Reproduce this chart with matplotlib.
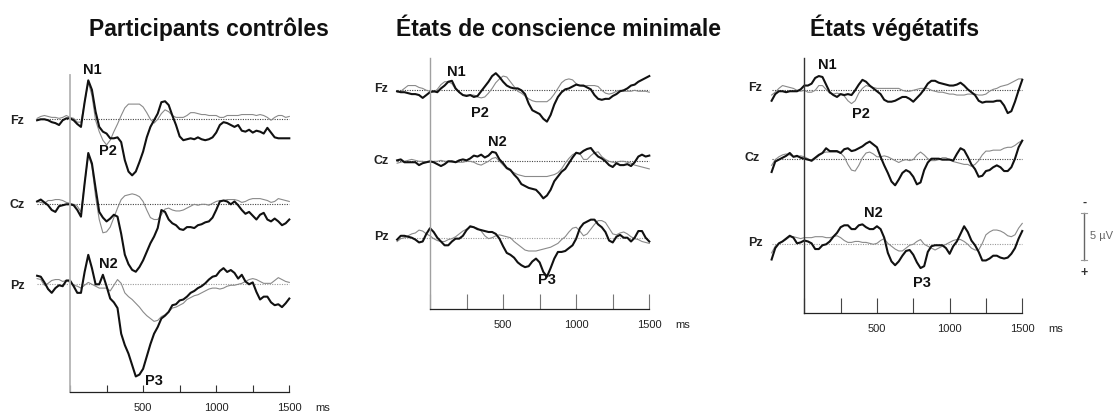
import numpy as np
import matplotlib
matplotlib.use("Agg")
import matplotlib.pyplot as plt

plt.rcParams['font.family'] = ['Liberation Sans', 'DejaVu Sans']

# ---------------- data (µV, negative up) ----------------
times = np.arange(-225, 1501, 25)          # ms
channels = ['Fz', 'Cz', 'Pz']
tick_values = [0, 250, 500, 750, 1000, 1250, 1500]
tick_labels = ['', '', '500', '', '1000', '', '1500']
titles = ['Participants contrôles', 'États de conscience minimale', 'États végétatifs']

# Participants contrôles
ctrl_fz_deviant = [0.1, 0, 0, 0.1, 0.3, 0.4, 0.6, 0.1, -0.1, -0.1, 0.1, 0.5, 0.8,
                   -1.8, -4.1, -3.1, -0.8, 0.8, 1.3, 1.5, 2.0, 2.0,
                   1.9, 2.4, 4.3, 5.5, 5.9, 5.5, 4.5, 3.4, 1.9, 0.8, 0.1, -0.6,
                   -1.8, -1.9, -1.5, -0.4, 0.6, 1.8, 2.2, 2.1, 2.0, 2.1, 1.9, 2.1, 2.2, 2.1, 1.9, 1.4,
                   0.6, 0.3, 0.4, 0.6, 0.8, 0.6, 1.2, 1.3, 1.1, 1.4, 1.2, 1.3, 1.5, 0.9, 1.4, 1.9, 2.0, 2.0, 2.0, 2.0]
ctrl_fz_standard = [-0.1, -0.3, -0.4, -0.3, -0.2, -0.2, -0.1, -0.2, -0.4, -0.2, -0.1, 0.3, 0.3,
                    -1.8, -3.9, -2.5, 0.1, 1.3, 2.2, 2.7, 2.2, 1.3,
                    0.5, -0.4, -1.2, -1.6, -1.6, -1.6, -1.6, -1.3, -0.7, 0, 0.4, 0,
                    -0.6, -1.0, -0.8, -0.4, -0.2, -0.2, -0.2, -0.4, -0.7, -0.7, -0.6, -0.5, -0.5, -0.4, -0.4, -0.4,
                    -0.2, -0.2, -0.4, -0.4, -0.4, -0.4, -0.5, -0.5, -0.5, -0.5, -0.4, -0.5, -0.4, -0.2, 0.1, -0.2, -0.4, -0.4, -0.2, -0.3]
ctrl_cz_deviant = [-0.3, -0.5, -0.2, 0.1, 0.6, 0.8, 0.2, 0.1, 0, 0, 0.1, 0.6, 1.3,
                   -2.2, -5.4, -4.3, -1.7, 0.8, 1.4, 1.8, 1.5, 1.1,
                   1.3, 3.1, 5.3, 6.3, 6.9, 7.1, 6.6, 5.9, 5.0, 4.1, 3.4, 2.5,
                   0.6, 0.8, 1.6, 2.0, 2.2, 2.6, 2.7, 2.4, 2.4, 2.5, 2.2, 2.1, 1.9, 1.8, 1.4, 0.6,
                   -0.3, -0.4, -0.3, 0, -0.3, 0.1, 0.6, 1.0, 0.8, 1.2, 1.6, 1.1, 0.9, 1.6, 1.8, 1.5, 1.8, 2.2, 2.0, 1.6]
ctrl_cz_standard = [-0.3, -0.2, -0.1, -0.4, -0.4, -0.5, -0.5, -0.4, -0.2, -0.1, 0, 0.2, 0.8,
                    -2.2, -5.2, -4.0, -0.8, 1.6, 3.0, 2.9, 2.4, 1.4,
                    0.4, -0.5, -0.9, -1.0, -1.1, -1.0, -0.8, -0.3, 0.6, 1.4, 1.6, 1.6,
                    1.1, 0.5, 0.4, 0.6, 0.7, 0.7, 0.6, 0.4, 0.2, 0, 0.1, 0, 0, 0.1, -0.1, -0.3,
                    -0.4, -0.4, -0.5, -0.5, -0.5, -0.4, -0.2, -0.3, -0.5, -0.6, -0.6, -0.6, -0.5, -0.4, -0.2, -0.3, -0.6, -0.5, -0.4, -0.3]
ctrl_pz_deviant = [-0.9, -0.8, -0.2, 0.5, 0.9, 0.4, 0.1, 0.2, -0.4, -0.4, 0.2, 0.9, 0.9,
                   -1.3, -3.1, -1.7, 0, 0, -1.0, 0.2, 1.5, 1.9,
                   2.5, 5.2, 6.4, 7.3, 8.5, 9.7, 9.5, 8.9, 7.6, 6.3, 5.2, 4.5,
                   3.6, 3.3, 2.9, 2.2, 2.1, 1.7, 1.6, 1.3, 0.9, 0.7, 0.4, 0.2, -0.1, -0.5, -0.8, -0.9,
                   -1.4, -1.7, -1.3, -1.5, -1.2, -0.6, -1.0, -0.3, 0, -0.2, 0.8, 1.6, 1.3, 1.3, 1.9, 2.2, 2.1, 2.4, 2.0, 1.5]
ctrl_pz_standard = [-0.6, -0.5, 0.1, -0.1, -0.4, -0.5, -0.5, -0.3, -0.4, -0.2, 0.1, 0.2, 0.4,
                    0.1, -0.2, 0, 0.2, 0.4, 0.4, 0.4, 0.7, 0.1,
                    -0.5, -0.1, 0.9, 1.3, 1.6, 2.0, 2.4, 2.9, 3.3, 3.6, 3.9, 3.8,
                    3.4, 3.2, 2.9, 2.5, 2.4, 2.2, 2.0, 1.6, 1.4, 1.2, 1.1, 0.9, 0.7, 0.5, 0.4, 0.4,
                    0.5, 0.4, 0.2, 0.1, 0.1, 0, -0.1, -0.3, -0.5, -0.6, -0.5, -0.3, -0.1, -0.1, -0.1, -0.4, -0.7, -0.5, -0.3, -0.2]

# États de conscience minimale
mcs_fz_deviant = [0.1, 0.2, 0.2, 0.3, 0.4, 0.4, 0.5, 0.8, 0.5, 0.2, 0.1, 0.2, -0.2,
                  -0.5, -0.9, -1.0, -0.2, 0.2, 0.5, 0.6, 0.5, 0.7,
                  0.6, 0.1, -0.4, -0.9, -1.5, -1.8, -1.4, -0.9, -0.5, -0.3, -0.2, -0.2,
                  0, 0.4, 1.4, 2.1, 2.3, 2.5, 3.0, 3.3, 2.6, 1.5, 0.7, 0.2, -0.1, -0.2, -0.4, -0.6,
                  -0.5, -0.5, -0.3, -0.1, 0.5, 0.9, 1.0, 0.9, 0.9, 0.6, 0.4, 0.1, 0, -0.2, -0.5, -0.6, -0.9, -1.1, -1.3, -1.5]
mcs_fz_standard = [0.2, 0.1, -0.2, -0.5, -0.5, -0.5, -0.3, -0.2, 0, 0.1, 0.2, -0.1, -0.6,
                   -0.9, -0.9, -0.7, -0.1, 0.2, 0.5, 0.5, 0.5, 0.5,
                   0.7, 0.8, 0.7, 0.3, -0.2, -0.8, -1.2, -1.5, -1.4, -0.9, -0.4, 0.1,
                   0.3, 0.6, 0.9, 1.1, 1.2, 1.2, 1.2, 1.2, 0.9, 0.4, -0.2, -0.8, -1.1, -1.2, -1.1, -0.7,
                   -0.5, -0.4, -0.5, -0.5, -0.5, -0.4, 0, 0.3, 0.4, 0.3, 0.1, 0, 0.1, 0.1, 0.1, 0, 0.1, 0.1, 0.1, 0.2]
mcs_cz_deviant = [-0.1, -0.2, 0.1, 0.1, 0.1, 0.1, 0.4, 0.2, 0.1, 0, 0.1, 0.3, 0.5,
                  0.3, 0, 0, 0.1, -0.1, -0.2, -0.1, -0.3, -0.6,
                  -0.5, -0.7, -0.4, -0.6, -1.0, -0.9, -0.2, 0.2, 0.7, 0.9, 1.4, 1.8,
                  2.4, 2.6, 2.8, 2.9, 3.0, 3.4, 3.9, 3.6, 3.0, 2.1, 1.6, 1.1, 0.8, 0.2, -0.4, -0.9,
                  -0.8, -1.1, -1.3, -1.4, -0.9, -0.5, -0.3, 0, 0.4, 0.6, 0.2, 0.4, 0.4, 0.3, 0.5, 0.1, -0.5, -0.7, -0.5, -0.6]
mcs_cz_standard = [0.2, 0.1, 0, -0.1, -0.2, -0.1, 0, 0, 0.1, 0.1, 0, 0, -0.1,
                   0, 0, 0.1, 0.1, 0.1, 0.1, 0, 0, 0.1,
                   0.3, 0.4, 0.2, 0, -0.3, -0.4, 0, 0.4, 0.8, 1.0, 1.2, 1.4,
                   1.5, 1.6, 1.6, 1.6, 1.6, 1.6, 1.6, 1.6, 1.5, 1.4, 1.2, 0.8, 0.2, -0.3, -0.7, -0.9,
                   -0.8, -0.2, -0.2, -0.6, -0.9, -1.0, -0.5, -0.2, 0, 0.1, 0.1, 0, 0, 0.1, 0.2, 0.4, 0.5, 0.6, 0.7, 0.8]
mcs_pz_deviant = [0.2, -0.2, -0.2, -0.1, 0, 0.2, 0.5, 0.4, -0.4, -1.0, -0.6, 0, 0.4,
                  0.8, 0.8, 0.4, 0.1, 0.1, -0.2, -0.8, -1.2, -1.1,
                  -0.9, -0.8, -0.7, -0.6, -0.6, -0.4, 0.1, 0.9, 1.6, 1.8, 2.1, 2.6,
                  2.9, 3.1, 3.0, 2.5, 2.2, 2.6, 3.6, 4.1, 3.2, 2.2, 1.5, 1.5, 1.4, 1.1, 0.8, 0.1,
                  -1.0, -1.5, -1.7, -1.9, -1.9, -1.4, -1.1, -0.6, 0.3, 0.5, -0.1, -0.3, 0, 0, 0.4, 0, -0.7, -0.7, 0, 0.4]
mcs_pz_standard = [0.4, 0.1, 0, -0.2, -0.4, -0.5, -0.8, -0.7, -0.4, -0.2, 0.1, 0.3, 0.4,
                   0.4, 0.2, 0.1, -0.1, -0.4, -0.7, -0.9, -1.1, -1.1,
                   -1.0, -0.7, -0.2, 0.1, 0, -0.2, -0.3, -0.2, -0.1, 0, 0.4, 0.7,
                   1.0, 1.3, 1.4, 1.4, 1.4, 1.3, 1.2, 1.1, 1.0, 0.8, 0.6, 0.2, -0.1, -0.6, -1.0, -1.1,
                   -0.7, -0.2, -0.4, -0.9, -1.4, -1.8, -1.8, -1.6, -1.0, -0.4, -0.3, -0.5, -0.6, -0.4, -0.1, 0.1, 0.2, 0.4, 0.5, 0.6]

# États végétatifs
vs_fz_deviant = [1.1, 0.4, 0.1, 0.1, 0.2, 0.1, 0.1, 0.1, -0.1, -0.5, -0.5, -0.7, -1.3,
                 -1.5, -1.4, -0.6, 0.2, 0.5, 0.7, 0.4, 0.5, 0.4,
                 0.5, 0, -0.6, -1.1, -0.9, -0.5, -0.2, 0.1, 0.4, 1.0, 1.2, 1.2,
                 1.1, 0.9, 0.7, 0.7, 0.9, 1.2, 0.8, 0.4, -0.1, -0.7, -1.0, -1.0, -0.8, -0.7, -0.6, -0.5,
                 -0.5, -0.6, -0.8, -0.5, -0.1, 0.2, 0.5, 1.1, 1.3, 1.2, 1.2, 1.2, 1.1, 1.1, 1.6, 2.4, 2.2, 1.2, 0, -1.1]
vs_fz_standard = [0.5, 0.2, -0.2, -0.5, -0.4, -0.3, -0.2, 0, 0.1, 0, 0.2, 0.2, 0,
                  -0.5, -0.5, -0.1, 0.3, 0.4, 0.3, 0.4, 0.6, 1.1,
                  1.4, 1.1, 0.3, -0.2, -0.5, -0.4, -0.3, -0.2, -0.2, -0.2, -0.2, -0.2,
                  -0.2, -0.2, 0, 0.1, 0.1, 0, -0.1, -0.2, -0.2, -0.2, 0, 0.1, 0.2, 0.2, 0.3, 0.4,
                  0.4, 0.5, 0.5, 0.5, 0.4, 0.4, 0.4, 0.5, 0.5, 0.4, 0.1, -0.1, -0.2, -0.4, -0.5, -0.6, -0.8, -1.0, -1.2, -1.2]
vs_cz_deviant = [1.4, 0.3, 0.1, -0.1, -0.3, -0.6, -0.2, -0.3, -0.1, 0, 0.1, 0.2, -0.1,
                 -0.4, -0.6, -1.1, -0.8, -0.8, -0.8, -0.6, -1.0, -1.1,
                 -0.8, -0.9, -1.1, -1.3, -1.6, -1.8, -1.5, -1.2, -0.2, 0.7, 1.5, 2.4,
                 2.8, 2.2, 1.5, 1.2, 1.4, 1.9, 2.7, 2.5, 1.2, 0.4, 0, 0, 0, 0.1, 0.1, 0.1,
                 0.2, -0.5, -1.1, -0.9, -0.2, 0.6, 1.1, 1.9, 1.8, 1.3, 1.2, 0.9, 0.7, 0.9, 1.3, 1.3, 0.9, 0, -1.2, -1.9]
vs_cz_standard = [0.7, 0.1, -0.2, -0.4, -0.5, -0.4, -0.2, -0.2, -0.3, -0.2, 0, 0.3, 0,
                  -0.3, -0.6, -0.7, -0.7, -0.7, -0.7, -0.6, -0.2, 0.6,
                  1.2, 1.3, 0.7, -0.1, -0.6, -0.7, -0.5, -0.2, -0.2, -0.3, -0.2, 0,
                  0.2, 0.4, 0.2, 0.1, 0.2, 0.1, -0.4, -0.7, -0.4, 0, 0.2, 0.2, 0.1, -0.1, -0.1, 0.1,
                  0.3, 0.4, 0.5, 0.6, 0.6, 0.8, 0.6, 0.2, -0.4, -0.8, -0.8, -0.9, -0.9, -0.9, -1.1, -1.2, -1.2, -1.4, -1.7, -1.9]
vs_pz_deviant = [1.6, 0.4, -0.1, -0.3, -0.6, -0.9, -0.7, -0.1, -0.2, -0.4, -0.3, -0.1, 0.5,
                 0.5, 0.1, 0, -0.3, -0.8, -1.2, -1.8, -2.0, -2.0,
                 -1.6, -1.6, -2.0, -2.1, -1.8, -1.6, -1.6, -1.9, -1.6, -0.7, 0.9, 1.8,
                 2.2, 1.8, 1.2, 0.7, 0.6, 1.1, 1.9, 2.5, 2.3, 0.8, 0.2, 0.1, 0.1, 0.1, 0.4, 1.0,
                 0.2, -0.3, -1.1, -1.9, -1.3, -0.4, 0.1, 0.8, 1.7, 1.7, 1.5, 1.2, 1.2, 1.4, 1.5, 1.4, 1.0, 0.4, -0.6, -1.4]
vs_pz_standard = [0.9, 0.2, -0.1, -0.3, -0.5, -0.8, -0.8, -0.7, -0.6, -0.7, -0.7, -0.7, -0.8,
                  -0.8, -0.8, -0.7, -0.7, -0.8, -0.9, -0.7, -0.4, -0.2,
                  -0.2, -0.3, -0.3, -0.2, -0.2, -0.1, 0, -0.1, -0.4, -0.6, -0.1, 0.2,
                  0.5, 0.7, 0.7, 0.4, 0.1, 0, -0.3, -0.5, 0, 0.2, 0.4, 0.6, 0.4, 0.2, 0, -0.2,
                  -0.4, -0.5, -0.5, -0.3, 0, 0.4, 0.6, 0.6, -0.1, -1.0, -1.3, -1.5, -1.5, -1.4, -1.2, -0.9, -0.8, -1.0, -1.7, -2.2]

scale_uv = 5

# ---------------- layout (pixels of the 1118x419 canvas) ----------------
W, H = 1118, 419
PX_PER_UV = 9.5

panels = [
    dict(title_x=209,
         data=[(ctrl_fz_deviant, ctrl_fz_standard), (ctrl_cz_deviant, ctrl_cz_standard), (ctrl_pz_deviant, ctrl_pz_standard)],
         t0=70.0, ppm=0.1462, top=75, bottom=391.7, base=(119.3, 204.3, 284.3),
         vcolor='#b4b4b4', vlw=1.3, tcolor='#333333', tlen=5,
         chan_px=[(17.5, 121), (17.5, 205), (17.5, 286)],
         comps=[('N1', 92, 70), ('P2', 108, 151), ('N2', 108, 264), ('P3', 154, 381)]),
    dict(title_x=559,
         data=[(mcs_fz_deviant, mcs_fz_standard), (mcs_cz_deviant, mcs_cz_standard), (mcs_pz_deviant, mcs_pz_standard)],
         t0=430.0, ppm=0.1462, top=58, bottom=309, base=(90.3, 161.3, 237.7),
         vcolor='#a0a0a0', vlw=1.0, tcolor='#777777', tlen=11,
         chan_px=[(381, 89), (381, 161), (381, 237)],
         comps=[('N1', 456, 72), ('P2', 480, 113), ('N2', 497, 142), ('P3', 547, 280)]),
    dict(title_x=895,
         data=[(vs_fz_deviant, vs_fz_standard), (vs_cz_deviant, vs_cz_standard), (vs_pz_deviant, vs_pz_standard)],
         t0=804.3, ppm=0.1453, top=58, bottom=313.3, base=(90.3, 158.7, 244.3),
         vcolor='#333333', vlw=1.0, tcolor='#444444', tlen=11,
         chan_px=[(755, 88), (752, 158), (755, 243)],
         comps=[('N1', 827, 65), ('P2', 861, 114), ('N2', 873, 213), ('P3', 922, 283)]),
]

fig = plt.figure(figsize=(W / 100, H / 100), dpi=100)
XLIM = (-300, 1560)

axes = []
for title, p in zip(titles, panels):
    left = p['t0'] + XLIM[0] * p['ppm']
    right = p['t0'] + XLIM[1] * p['ppm']
    ax = fig.add_axes([left / W, 1 - p['bottom'] / H, (right - left) / W, (p['bottom'] - p['top']) / H])
    axes.append(ax)
    ax.patch.set_alpha(0)
    ax.set_xlim(XLIM)
    fz = p['base'][0]
    ax.set_ylim((p['bottom'] - fz) / PX_PER_UV, (p['top'] - fz) / PX_PER_UV)

    for s in ('top', 'right'):
        ax.spines[s].set_visible(False)
    ax.spines['left'].set_position(('data', 0))
    ax.spines['left'].set_color(p['vcolor'])
    ax.spines['left'].set_linewidth(p['vlw'])
    ax.spines['bottom'].set_bounds(0, 1500)
    ax.spines['bottom'].set_color('#222222')
    ax.spines['bottom'].set_linewidth(0.9)
    ax.set_yticks([])
    ax.set_xticks(tick_values)
    ax.set_xticklabels(tick_labels)
    ax.tick_params(axis='x', direction='in', length=p['tlen'], width=0.8,
                   color=p['tcolor'], pad=8, labelsize=8, labelcolor='#222222')
    ax.annotate('ms', xy=(1500, 0), xycoords=('data', 'axes fraction'),
                xytext=(33, -11), textcoords='offset pixels', ha='center', va='top',
                fontsize=8, color='#222222')

    for k, (ch, (dev, std)) in enumerate(zip(channels, p['data'])):
        assert len(dev) == len(times) and len(std) == len(times)
        off = (p['base'][k] - fz) / PX_PER_UV
        bcol = '#9a9a9a' if ch == 'Pz' else '#444444'
        ax.plot([times[0], times[-1]], [off, off], ls=(0, (1, 1.2)), color=bcol, lw=0.8, clip_on=False)
        ax.plot(times, np.array(std) + off, color='#8a8a8a', lw=0.8, clip_on=False)
        ax.plot(times, np.array(dev) + off, color='#111111', lw=1.5, clip_on=False,
                solid_joinstyle='round')
        cx, cy = p['chan_px'][k]
        fig.text(cx / W, 1 - cy / H, ch, ha='center', va='center', fontsize=9,
                 fontweight='bold', color='#222222')

    for lab, lx, ly in p['comps']:
        fig.text(lx / W, 1 - ly / H, lab, ha='center', va='center', fontsize=10.5,
                 fontweight='bold', color='#111111')

    fig.text(p['title_x'] / W, 1 - 36 / H, title, ha='center', va='baseline',
             fontsize=16.5, fontweight='bold', color='#111111')

# ---------------- scale bar (5 µV) on the last panel ----------------
ax = axes[-1]
p = panels[-1]
sb_t = (1084.3 - p['t0']) / p['ppm']
sb_y0 = (212.7 - p['base'][0]) / PX_PER_UV
hw = 3 / p['ppm']
ax.plot([sb_t, sb_t], [sb_y0, sb_y0 + scale_uv], color='#666666', lw=1.0, clip_on=False)
for yy in (sb_y0, sb_y0 + scale_uv):
    ax.plot([sb_t - hw, sb_t + hw], [yy, yy], color='#999999', lw=0.8, clip_on=False)
ax.text(sb_t, sb_y0 - 1.0, '-', ha='center', va='center', fontsize=9, color='#333333', fontweight='bold')
ax.text(sb_t, sb_y0 + scale_uv + 1.3, '+', ha='center', va='center', fontsize=9, color='#333333', fontweight='bold')
ax.text(sb_t + 6 / p['ppm'], sb_y0 + scale_uv / 2, f'{scale_uv} µV', ha='left', va='center',
        fontsize=8, color='#666666')

fig.savefig('out.png', dpi=100)
